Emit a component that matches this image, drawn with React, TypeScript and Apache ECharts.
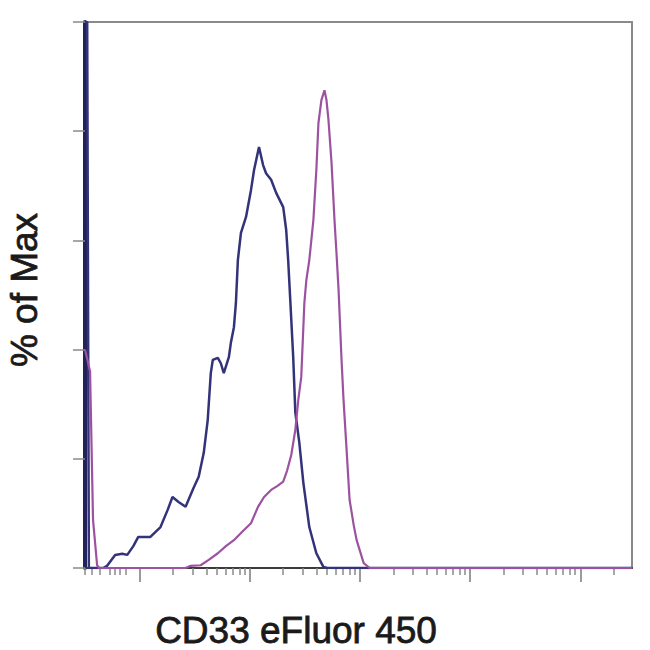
import React, { useEffect, useRef } from "react";
import * as echarts from "echarts";

// x values are in log-decades of fluorescence, y values are % of Max
const blueX = [-0.5, -0.48, -0.465, -0.335, -0.299, -0.226, -0.162, -0.116, -0.061, -0.016, 0.094, 0.186, 0.25, 0.295, 0.35, 0.414, 0.487, 0.533, 0.579, 0.615, 0.643, 0.661, 0.707, 0.734, 0.761, 0.807, 0.825, 0.853, 0.871, 0.889, 0.917, 0.963, 1.008, 1.036, 1.081, 1.118, 1.145, 1.191, 1.237, 1.301, 1.328, 1.346, 1.364, 1.392, 1.411, 1.447, 1.484, 1.538, 1.602, 1.666, 1.703, 4.47];
const blueY = [100, 100, 0, 0, 0.4, 2.4, 2.6, 2.4, 4.0, 5.7, 5.7, 7.5, 10.6, 13.0, 12.1, 11.2, 14.7, 16.7, 21.1, 27.1, 35.7, 38.1, 38.5, 37.5, 35.7, 38.6, 41.2, 44.1, 48.5, 56.4, 61.4, 64.3, 69.2, 72.9, 77.1, 73.8, 72.3, 71.1, 68.7, 66.1, 61.9, 56.4, 49.5, 38.5, 28.5, 23.0, 15.6, 7.5, 2.7, 0.2, 0, 0];

const purpleX = [-0.5, -0.454, -0.427, -0.39, -0.372, 0.414, 0.46, 0.551, 0.624, 0.707, 0.78, 0.853, 0.926, 1.008, 1.072, 1.127, 1.191, 1.246, 1.301, 1.337, 1.374, 1.411, 1.438, 1.465, 1.493, 1.511, 1.538, 1.575, 1.602, 1.621, 1.648, 1.676, 1.694, 1.712, 1.74, 1.767, 1.785, 1.804, 1.831, 1.849, 1.877, 1.904, 1.941, 1.968, 2.032, 2.087, 4.47];
const purpleY = [40, 36, 8.8, 0.5, 0, 0, 0.4, 0.5, 1.5, 2.7, 4.0, 5.1, 6.6, 8.2, 11.2, 13.0, 14.3, 15.0, 15.8, 17.9, 20.7, 25.3, 30.8, 35.0, 48.5, 52.7, 56.4, 63.7, 72.9, 81.5, 85.7, 87.5, 85.7, 82.1, 74.2, 63.7, 57.7, 50.9, 38.1, 30.8, 21.6, 12.5, 7.9, 5.1, 0.9, 0, 0];

const majorTicks = [0, 1, 2, 3, 4];
const lowTicks = [-0.5, -0.436, -0.363, -0.271, -0.226, -0.18, -0.134];
const logSteps = [2, 3, 4, 5, 6, 7, 8, 9];
const yTicks = [0, 20, 40, 60, 80, 100];

const xTitle = "CD33 eFluor 450";
const yTitle = "% of Max";

export default function App() {
  const ref = useRef<HTMLDivElement>(null);
  useEffect(() => {
    if (!ref.current) return;
    const chart = echarts.init(ref.current, undefined, { renderer: "svg" });
    const minorTicks: number[] = [...lowTicks];
    for (let d = 0; d <= 4; d++) {
      for (const k of logSteps) {
        const v = d + Math.log10(k);
        if (v < 4.47) minorTicks.push(v);
      }
    }
    const xBase = {
      type: "value",
      min: -0.5,
      max: 4.47,
      position: "bottom",
      axisLabel: { show: false },
      splitLine: { show: false },
    };
    const titleStyle = {
      font: "37px 'Liberation Sans', Arial, sans-serif",
      fill: "#1a1a1a",
      stroke: "#1a1a1a",
      lineWidth: 0.8,
      align: "center",
      verticalAlign: "middle",
    };
    chart.setOption({
      animation: false,
      backgroundColor: "#ffffff",
      grid: {
        left: 85,
        top: 22,
        width: 547,
        height: 546,
        show: true,
        borderColor: "#8a8a8a",
        borderWidth: 2,
        backgroundColor: "transparent",
      },
      xAxis: [
        {
          ...xBase,
          axisLine: { show: true, onZero: false, lineStyle: { color: "#3a3a3a", width: 2 } },
          axisTick: {
            show: true,
            inside: false,
            length: 14,
            customValues: majorTicks,
            lineStyle: { color: "#7a7a7a", width: 1.5 },
          },
        },
        {
          ...xBase,
          axisLine: { show: false, onZero: false },
          axisTick: {
            show: true,
            inside: false,
            length: 7,
            customValues: minorTicks,
            lineStyle: { color: "#8a8a8a", width: 1.5 },
          },
        },
      ],
      yAxis: {
        type: "value",
        min: 0,
        max: 100,
        interval: 20,
        axisLabel: { show: false },
        splitLine: { show: false },
        axisLine: { show: true, onZero: false, lineStyle: { color: "#22225a", width: 4 } },
        axisTick: {
          show: true,
          length: 12,
          customValues: yTicks,
          lineStyle: { color: "#8a8a8a", width: 1.5 },
        },
      },
      series: [
        {
          type: "line",
          xAxisIndex: 0,
          showSymbol: false,
          silent: true,
          lineStyle: { color: "#33337a", width: 2.5 },
          data: blueX.map((x, i) => [x, blueY[i]]),
        },
        {
          type: "line",
          xAxisIndex: 0,
          showSymbol: false,
          silent: true,
          lineStyle: { color: "#9c52a0", width: 2.2 },
          data: purpleX.map((x, i) => [x, purpleY[i]]),
        },
      ],
      graphic: [
        {
          type: "text",
          x: 296,
          y: 630,
          style: { text: xTitle, ...titleStyle },
        },
        {
          type: "text",
          x: 24,
          y: 290,
          rotation: Math.PI / 2,
          style: { text: yTitle, ...titleStyle },
        },
      ],
    });
    return () => chart.dispose();
  }, []);
  return (
    <div
      ref={ref}
      style={{ position: "fixed", left: 0, top: 0, width: 650, height: 650, background: "#fff" }}
    />
  );
}
